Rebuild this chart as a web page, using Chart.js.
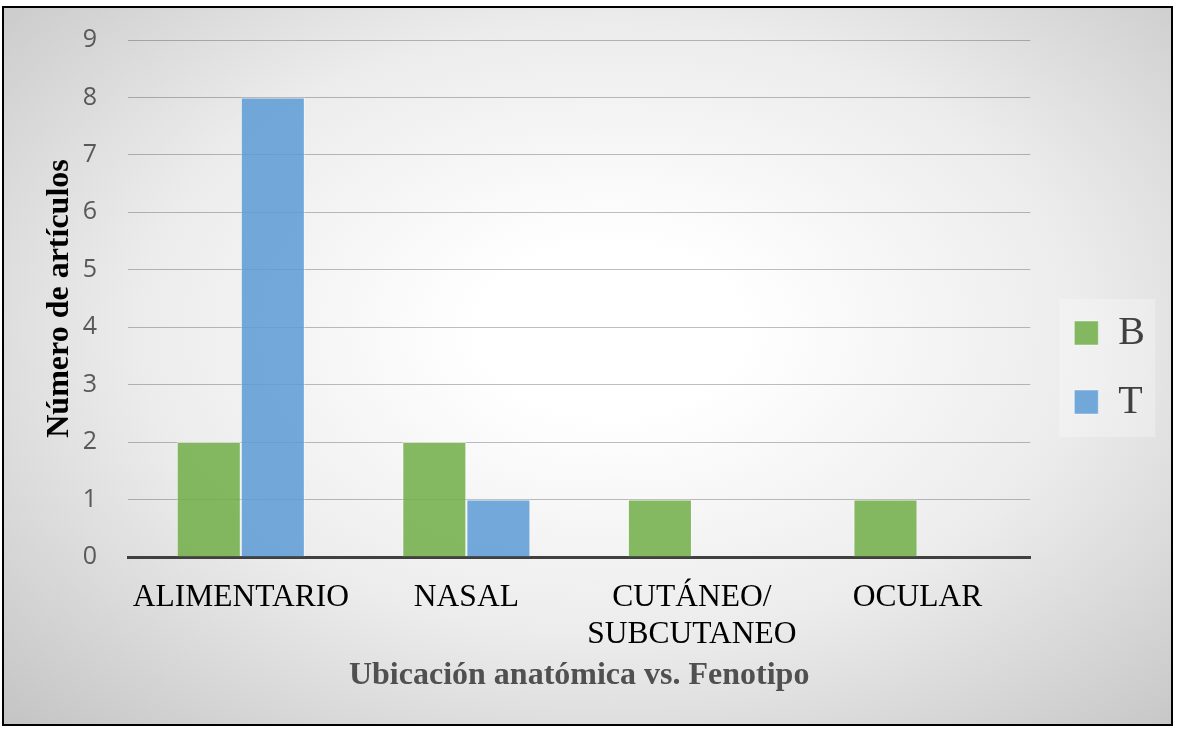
<!DOCTYPE html>
<html>
<head>
<meta charset="utf-8">
<script src="https://cdn.jsdelivr.net/npm/chart.js@4"></script>
<style>
  html, body { margin: 0; padding: 0; background: #fff; }
  #frame {
    position: absolute; left: 2px; top: 6px; width: 1171px; height: 720px;
    box-sizing: border-box; border: 2px solid #000;
    background: radial-gradient(farthest-corner at 52% 45%, #ffffff 0%, #ffffff 15%, #ececec 55%, #c4c4c4 100%);
  }
  #wrap { position: absolute; left: 0; top: 0; width: 1197px; height: 729px; }
</style>
</head>
<body>
<div id="frame"></div>
<div id="wrap"><canvas id="chart"></canvas></div>
<script>
const categories = ['ALIMENTARIO', 'NASAL', ['CUTÁNEO/', 'SUBCUTANEO'], 'OCULAR'];
const seriesB = [2, 2, 1, 1];
const seriesT = [8, 1, 0, 0];
const yTicks = [0, 1, 2, 3, 4, 5, 6, 7, 8, 9];

const serif = 'Liberation Serif, Times New Roman, serif';

// fondo claro detras de la leyenda
const legendBg = {
  id: 'legendBg',
  beforeDraw(chart) {
    const hb = chart.legend && chart.legend.legendHitBoxes;
    if (!hb || !hb.length) return;
    const first = hb[0], last = hb[hb.length - 1];
    const ctx = chart.ctx;
    ctx.save();
    ctx.fillStyle = 'rgba(255,255,255,0.28)';
    ctx.fillRect(first.left - 15, first.top - 14, 96, last.top + last.height + 15 - (first.top - 14));
    ctx.restore();
  }
};

const ctx = document.getElementById('chart').getContext('2d');
window.myChart = new Chart(ctx, {
  type: 'bar',
  data: {
    labels: categories,
    datasets: [
      {
        label: 'B',
        data: seriesB,
        backgroundColor: 'rgba(112,173,71,0.85)',
        borderColor: 'rgba(255,255,255,0.45)',
        borderWidth: 1
      },
      {
        label: 'T',
        data: seriesT,
        backgroundColor: 'rgba(91,155,213,0.85)',
        borderColor: 'rgba(255,255,255,0.45)',
        borderWidth: 1
      }
    ]
  },
  options: {
    responsive: true,
    maintainAspectRatio: false,
    animation: false,
    layout: { padding: { top: 40, bottom: 34, left: 42, right: 42 } },
    datasets: { bar: { categoryPercentage: 0.568, barPercentage: 1 } },
    plugins: {
      legend: {
        position: 'right',
        labels: {
          font: { family: serif, size: 40 },
          color: '#404040',
          boxWidth: 24,
          boxHeight: 24,
          padding: 29
        }
      },
      tooltip: { enabled: false }
    },
    scales: {
      x: {
        grid: { display: false, drawTicks: false },
        border: { display: true, color: '#404040', width: 3 },
        ticks: {
          color: '#000',
          padding: 23,
          autoSkip: false,
          maxRotation: 0,
          minRotation: 0,
          font: { family: serif, size: 31.5, lineHeight: 1.15 }
        },
        title: {
          display: true,
          text: 'Ubicación anatómica vs. Fenotipo',
          color: '#505050',
          font: { family: serif, size: 32, weight: 'bold', lineHeight: 1 },
          padding: { top: 5.6, bottom: 3 }
        },
        afterFit: s => { s.height = 138; s.paddingLeft = 0; s.paddingRight = 0; }
      },
      y: {
        min: yTicks[0],
        max: yTicks[yTicks.length - 1],
        afterBuildTicks: s => { s.ticks = yTicks.map(v => ({ value: v })); },
        grid: { color: 'rgba(0,0,0,0.25)', lineWidth: 1, drawTicks: false },
        border: { display: false },
        ticks: {
          color: '#595959',
          padding: 31,
          font: { family: 'Open Sans', size: 25 }
        },
        title: {
          display: true,
          text: 'Número de artículos',
          color: '#000',
          font: { family: serif, size: 32, weight: 'bold', lineHeight: 1 },
          padding: { top: 2, bottom: 6.7 }
        },
        afterFit: s => { s.width = 86; s.paddingTop = 0; s.paddingBottom = 0; }
      },
      gap: {
        type: 'linear',
        position: 'right',
        display: true,
        ticks: { display: false },
        grid: { display: false, drawTicks: false },
        border: { display: false },
        afterFit: s => { s.width = 15; }
      }
    }
  },
  plugins: [legendBg]
});
</script>
</body>
</html>
